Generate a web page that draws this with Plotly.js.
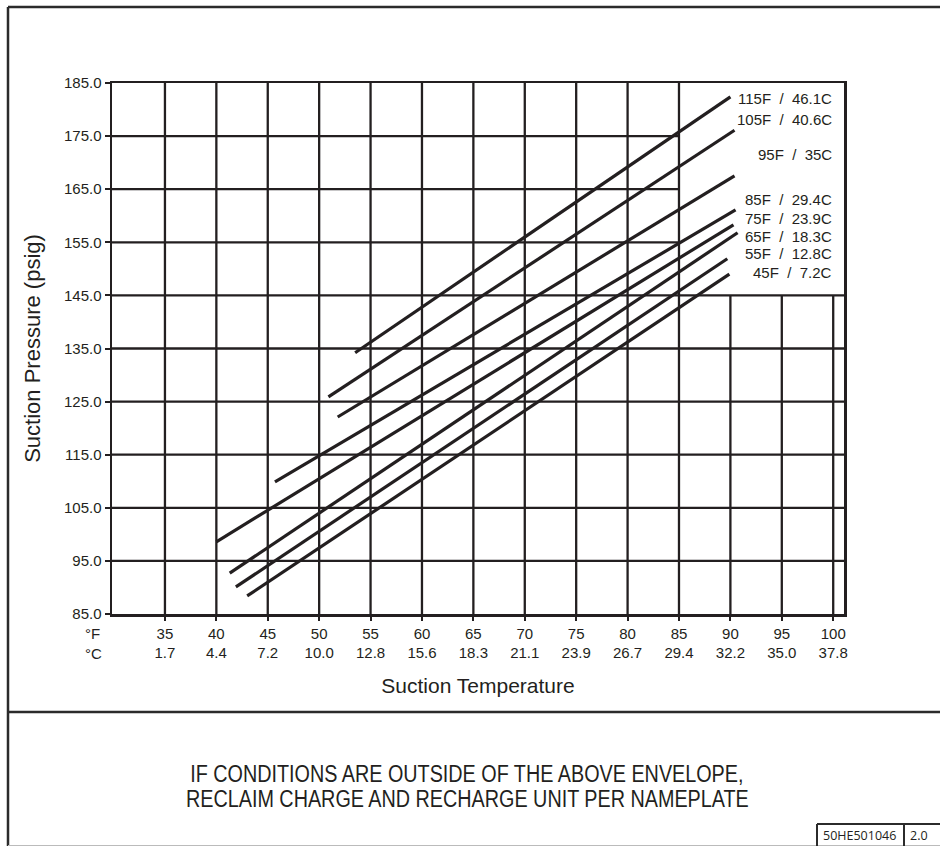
<!DOCTYPE html>
<html>
<head>
<meta charset="utf-8">
<script src="https://cdn.plot.ly/plotly-3.0.1.min.js"></script>
<style>html,body{margin:0;padding:0;background:#fff;}#chart{width:940px;height:846px;}</style>
</head>
<body>
<div id="chart"></div>
<script>
// ---- data ----
const seriesNames = ['115F / 46.1C', '105F / 40.6C', '95F / 35C', '85F / 29.4C', '75F / 23.9C', '65F / 18.3C', '55F / 12.8C', '45F / 7.2C'];
const startTemp  = [53.5, 50.9, 51.8, 45.7, 40.0, 41.3, 41.9, 43.0];
const startPress = [134.2, 125.9, 122.1, 109.9, 98.6, 92.7, 90.1, 88.4];
const endTemp    = [90.0, 90.4, 90.4, 90.5, 90.3, 90.7, 89.7, 89.9];
const endPress   = [182.4, 176.1, 167.5, 161.1, 158.3, 156.8, 151.9, 149.0];
const labelPress = [182.0, 178.2, 171.6, 163.0, 159.4, 156.0, 152.8, 149.4];
const tempF = [35, 40, 45, 50, 55, 60, 65, 70, 75, 80, 85, 90, 95, 100];
const tempC = ['1.7', '4.4', '7.2', '10.0', '12.8', '15.6', '18.3', '21.1', '23.9', '26.7', '29.4', '32.2', '35.0', '37.8'];
const pressTicks = [85, 95, 105, 115, 125, 135, 145, 155, 165, 175, 185];
const noteLines = ['IF CONDITIONS ARE OUTSIDE OF THE ABOVE ENVELOPE,', 'RECLAIM CHARGE AND RECHARGE UNIT PER NAMEPLATE'];
const docId = '50HE501046';
const docRev = '2.0';

// ---- layout constants ----
const W = 940, H = 846, L = 112, R = 844, T = 83, B = 614;
const XMIN = 29.85, XMAX = 101.05;
const ENV_T = 85, ENV_P = 145;
const INK = '#231f20';
const FONT = 'Liberation Sans, Arial, sans-serif';
const px = x => (x - L) / (R - L);
const py = y => (B - y) / (B - T);

const traces = seriesNames.map((n, i) => ({
  type: 'scatter', mode: 'lines', name: n,
  x: [startTemp[i], endTemp[i]], y: [startPress[i], endPress[i]],
  line: {color: INK, width: 3.2}, hoverinfo: 'skip', showlegend: false
}));

const shapes = [];
// vertical grid
tempF.forEach(t => {
  if (t >= XMAX) return;
  shapes.push({type: 'line', xref: 'x', yref: 'y', x0: t, x1: t, y0: 85, y1: t <= ENV_T ? 185 : ENV_P,
    line: {color: INK, width: 2.3}, layer: 'below'});
});
// horizontal grid
pressTicks.forEach(p => {
  if (p <= 85 || p >= 185) return;
  shapes.push({type: 'line', xref: 'x', yref: 'y', x0: XMIN, x1: p <= ENV_P ? XMAX : ENV_T, y0: p, y1: p,
    line: {color: INK, width: 2.3}, layer: 'below'});
});
// outer frame
const frame = (x0, y0, x1, y1, w, c) => shapes.push({type: 'line', xref: 'paper', yref: 'paper',
  x0: px(x0), x1: px(x1), y0: py(y0), y1: py(y1), line: {color: c || '#2b2b2b', width: w}});
frame(8, 7, 8, 846, 2.5);
frame(8, 7, 940, 7, 2.5);
frame(8, 712, 940, 712, 2.5);
frame(8, 845.5, 940, 845.5, 1.2, '#bbbbbb');
// doc box
frame(817, 824, 940, 824, 2);
frame(817, 824, 817, 846, 2);
frame(904, 824, 904, 846, 2);

const annotations = [];
seriesNames.forEach((n, i) => {
  annotations.push({xref: 'x', yref: 'y', x: 100.1, y: labelPress[i], xanchor: 'right', yanchor: 'middle',
    text: n.replace(' / ', '\u00a0\u00a0/\u00a0\u00a0'), showarrow: false,
    font: {family: FONT, size: 15, color: INK}});
});
annotations.push({xref: 'paper', yref: 'paper', x: px(93), y: py(643), xanchor: 'center', yanchor: 'middle',
  text: '°F<br>°C', showarrow: false, align: 'left', font: {family: FONT, size: 15, color: INK}});
noteLines.forEach((t, i) => {
  annotations.push({xref: 'paper', yref: 'paper', x: px(467), y: py(774 + i * 25), xanchor: 'center', yanchor: 'middle',
    text: t, showarrow: false, font: {family: FONT, size: 23, color: INK}});
});
annotations.push({xref: 'paper', yref: 'paper', x: px(821), y: py(835), xanchor: 'left', yanchor: 'middle',
  text: docId, showarrow: false, font: {family: 'Open Sans, sans-serif', size: 12.5, color: INK}});
annotations.push({xref: 'paper', yref: 'paper', x: px(908), y: py(835), xanchor: 'left', yanchor: 'middle',
  text: docRev, showarrow: false, font: {family: 'Open Sans, sans-serif', size: 12.5, color: INK}});

const layout = {
  width: W, height: H,
  margin: {l: L, r: W - R, t: T, b: H - B, pad: 0},
  paper_bgcolor: '#fff', plot_bgcolor: '#fff',
  showlegend: false,
  font: {family: FONT, color: INK},
  xaxis: {
    range: [XMIN, XMAX], showgrid: false, zeroline: false,
    showline: true, mirror: true, linecolor: INK, linewidth: 2.5,
    ticks: 'outside', ticklen: 4, tickwidth: 2, tickcolor: INK,
    tickvals: tempF, ticktext: tempF.map((f, i) => f + '<br>' + tempC[i]),
    tickfont: {family: FONT, size: 15, color: INK},
    title: {text: 'Suction Temperature', font: {family: FONT, size: 21, color: INK}, standoff: 19}
  },
  yaxis: {
    range: [85, 185], showgrid: false, zeroline: false,
    showline: true, mirror: true, linecolor: INK, linewidth: 2.5,
    ticks: 'outside', ticklen: 5, tickwidth: 2, tickcolor: INK,
    tickvals: pressTicks, ticktext: pressTicks.map(p => p.toFixed(1)),
    tickfont: {family: FONT, size: 15, color: INK},
    title: {text: 'Suction Pressure (psig)', font: {family: FONT, size: 22, color: INK}, standoff: 18}
  },
  shapes: shapes,
  annotations: annotations
};

Plotly.newPlot('chart', traces, layout, {staticPlot: true, displayModeBar: false}).then(() => {
  // condense the note text horizontally (the reference uses a narrow face)
  document.querySelectorAll('text.annotation-text').forEach(el => {
    if (noteLines.indexOf(el.textContent) >= 0) {
      el.style.transformBox = 'fill-box';
      el.style.transformOrigin = 'center';
      el.style.transform = 'scaleX(0.86)';
    }
  });
});
</script>
</body>
</html>
